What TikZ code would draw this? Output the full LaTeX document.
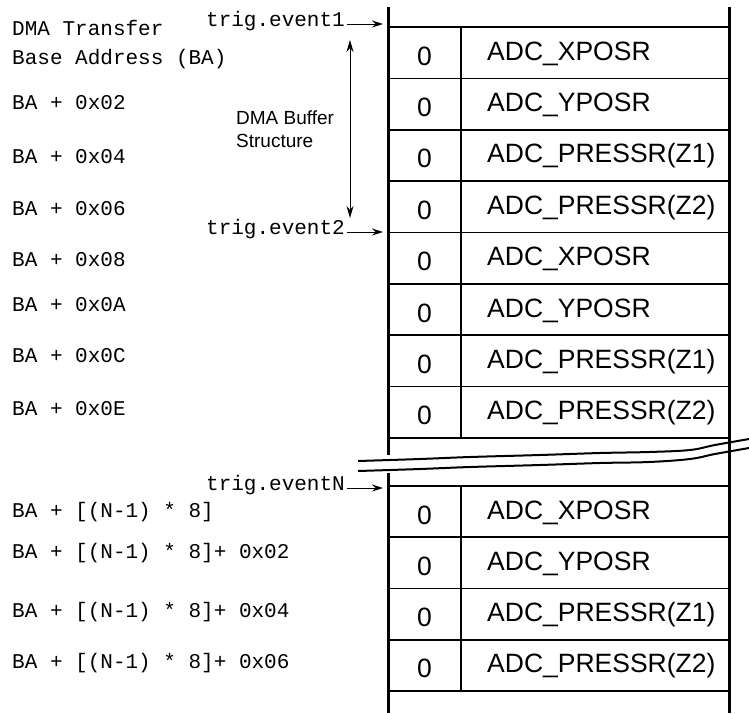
\documentclass[tikz,border=0pt]{standalone}
\usepackage{fontspec}
\usepackage{tikz}
\usetikzlibrary{arrows.meta,positioning}
\newfontfamily\regmono{Liberation Mono}
\newfontfamily\regsans{Liberation Sans}
\tikzset{
    % Address labels on the left (typewriter)
    addrlabel/.style={
        anchor=base west, inner sep=0pt,
        font=\regmono\fontsize{21}{25}\selectfont
    },
    % Trigger labels pointing into the buffer
    triglabel/.style={
        anchor=mid east, inner sep=0pt,
        font=\regmono\fontsize{21}{25}\selectfont
    },
    % One buffer word = bit cell + register cell
    bitcell/.style={
        draw, line width=1.6pt, outer sep=0pt, inner sep=0pt,
        minimum width=73pt, minimum height=51.3pt,
        text height=25pt, text depth=0pt,
        font=\regsans\fontsize{26.5}{30}\selectfont
    },
    regcell/.style={
        draw, line width=1.6pt, outer sep=0pt, inner sep=0pt,
        minimum width=268pt, minimum height=51.3pt
    },
    regname/.style={
        inner sep=0pt, text height=19pt, text depth=4pt,
        font=\regsans\fontsize{26.5}{30}\selectfont
    },
    % Lines and arrows
    busline/.style={line width=3pt},
    breakline/.style={line width=2pt},
    trigarrow/.style={-{Stealth[length=11pt,width=7pt]}, line width=1pt,
        shorten <=2pt, shorten >=5pt},
    spanarrow/.style={{Stealth[length=12pt,width=7pt]}-{Stealth[length=12pt,width=7pt]},
        line width=1pt},
}

\begin{document}
\begin{tikzpicture}[x=1pt,y=-1pt,
    buflabel/.style={anchor=north west, inner sep=0pt, align=left,
        font=\regsans\fontsize{19}{23}\selectfont}]
  \useasboundingbox (0,0) rectangle (749,713);

  % buffer side lines
  \coordinate (ltop) at (388,7);
  \coordinate (lbrk) at (388,455);
  \coordinate (lres) at (388,473);
  \coordinate (lbot) at (388,713);
  \coordinate (rtop) at (729,7);
  \coordinate (rbot) at (729,713);
  \draw[busline] (ltop) -- (lbrk);
  \draw[busline] (lres) -- (lbot);
  \draw[busline] (rtop) -- (rbot);

  % first buffer block
  \foreach \reg [count=\i from 0] in {ADC\_XPOSR,ADC\_YPOSR,ADC\_PRESSR(Z1),ADC\_PRESSR(Z2),
                                      ADC\_XPOSR,ADC\_YPOSR,ADC\_PRESSR(Z1),ADC\_PRESSR(Z2)} {
    \node[bitcell] (b\i) at (424.5,{52.65+51.375*\i}) {0};
    \node[regcell,right=0pt of b\i] (c\i) {};
    \node[regname,right=26pt of c\i.west] (r\i) {\reg};
  }

  % last buffer block
  \foreach \reg [count=\i from 0] in {ADC\_XPOSR,ADC\_YPOSR,ADC\_PRESSR(Z1),ADC\_PRESSR(Z2)} {
    \node[bitcell] (bn\i) at (424.5,{511.6+51.25*\i}) {0};
    \node[regcell,right=0pt of bn\i] (cn\i) {};
    \node[regname,right=26pt of cn\i.west] (rn\i) {\reg};
  }

  % break marks
  \draw[breakline] plot[smooth,tension=0.6] coordinates
    {(358,461) (420,459) (470,457) (540,455) (600,453) (649,452) (690,450) (715,445) (749,439)};
  \draw[breakline] plot[smooth,tension=0.6] coordinates
    {(358,471) (420,469) (470,467) (540,465) (600,463) (649,462) (690,459) (715,454) (749,448)};

  % addresses
  \foreach \yb/\txt [count=\i] in {35/DMA Transfer,64/Base Address (BA),
      109/BA + 0x02,163/BA + 0x04,215/BA + 0x06,266/BA + 0x08,
      311/BA + 0x0A,362/BA + 0x0C,415/BA + 0x0E} {
    \node[addrlabel] (a\i) at (12,\yb) {\txt};
  }
  \foreach \yb/\txt [count=\i] in {517/BA + [(N-1) * 8],558/BA + [(N-1) * 8]+ 0x02,
      617/BA + [(N-1) * 8]+ 0x04,668/BA + [(N-1) * 8]+ 0x06} {
    \node[addrlabel] (an\i) at (12,\yb) {\txt};
  }

  % triggers
  \node[triglabel] (trig1) at (345,24) {trig.event1};
  \node[triglabel] (trig2) at (345,232) {trig.event2};
  \node[triglabel] (trigN) at (345,488) {trig.eventN};
  \draw[trigarrow] (trig1.mid east) -- (trig1.mid east -| ltop);
  \draw[trigarrow] (trig2.mid east) -- (trig2.mid east -| ltop);
  \draw[trigarrow] (trigN.mid east) -- (trigN.mid east -| ltop);

  % one buffer structure
  \coordinate (stop) at (350,40);
  \coordinate (sbot) at (350,218);
  \draw[spanarrow] (stop) -- (sbot);
  \node[buflabel] (buf) at (236,111) {DMA Buffer\\Structure};
\end{tikzpicture}
\end{document}
